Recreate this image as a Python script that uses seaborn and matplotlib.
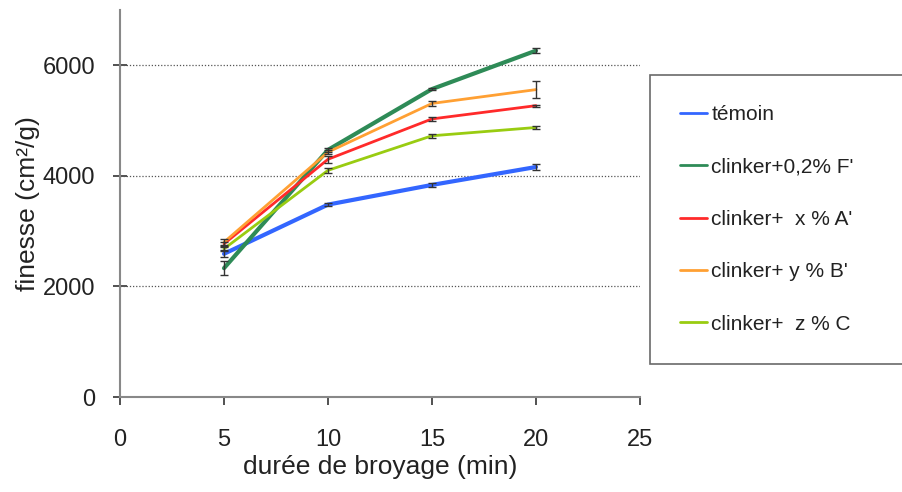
import matplotlib
matplotlib.use("Agg")
import matplotlib.pyplot as plt
import seaborn as sns
import pandas as pd

durees = [5, 10, 15, 20]
series = ["témoin", "clinker+0,2% F'", "clinker+  x % A'", "clinker+ y % B'", "clinker+  z % C"]
temoin = [2590, 3480, 3836, 4160]
clinker_f = [2330, 4470, 5570, 6265]
clinker_a = [2770, 4300, 5030, 5270]
clinker_b = [2800, 4430, 5310, 5560]
clinker_c = [2680, 4100, 4725, 4875]
erreurs = {
    "témoin": [60, 30, 40, 50],
    "clinker+0,2% F'": [125, 40, 25, 50],
    "clinker+  x % A'": [40, 60, 30, 20],
    "clinker+ y % B'": [50, 40, 40, 150],
    "clinker+  z % C": [40, 40, 40, 20],
}
valeurs = [temoin, clinker_f, clinker_a, clinker_b, clinker_c]
couleurs = ["#3366ff", "#2e8b57", "#ff2a2a", "#ffa033", "#99cc11"]
epaisseurs = [3, 3, 2, 2, 2]

rows = []
for nom, vals in zip(series, valeurs):
    for d, v, e in zip(durees, vals, erreurs[nom]):
        rows.append({"serie": nom, "duree": d, "finesse": v, "err": e})
df = pd.DataFrame(rows)

sns.set_style("white")
plt.rcParams["font.family"] = ["Liberation Sans", "DejaVu Sans"]

fig = plt.figure(figsize=(9.02, 4.92), dpi=100)
ax = fig.add_axes([120 / 902, 1 - 397 / 492, 520 / 902, 387 / 492])

for nom, c, lw in zip(series, couleurs, epaisseurs):
    sub = df[df["serie"] == nom]
    ax.errorbar(sub["duree"], sub["finesse"], yerr=sub["err"], fmt="none",
                ecolor="#333333", elinewidth=1, capsize=3, capthick=1, zorder=3)

sns.lineplot(data=df, x="duree", y="finesse", hue="serie", hue_order=series,
             palette=couleurs, size="serie", sizes=dict(zip(series, epaisseurs)),
             ax=ax, zorder=2, legend=False)

ax.set_xlim(0, 25)
ax.set_ylim(0, 7000)
ax.set_xticks([0, 5, 10, 15, 20, 25])
ax.set_yticks([0, 2000, 4000, 6000])
for y in [2000, 4000, 6000]:
    ax.axhline(y, color="#555555", linestyle=(0, (1, 1.5)), linewidth=0.9, zorder=1)

for s in ["top", "right"]:
    ax.spines[s].set_visible(False)
for s in ["left", "bottom"]:
    ax.spines[s].set_color("#888888")
    ax.spines[s].set_linewidth(1.5)
ax.tick_params(axis="x", labelsize=17, colors="#333333", length=6, width=1.2,
               direction="out", bottom=True, pad=17)
ax.tick_params(axis="y", labelsize=17, colors="#333333", length=10, width=1.2,
               direction="inout", left=True, pad=13)
for t in ax.get_xticklabels() + ax.get_yticklabels():
    t.set_color("#222222")

ax.set_xlabel("durée de broyage (min)", fontsize=19, color="#222222", labelpad=3)
ax.set_ylabel("finesse (cm²/g)", fontsize=19, color="#222222", labelpad=2)

handles = [plt.Line2D([], [], color=c, lw=2) for c in couleurs]
leg = fig.legend(handles, series, loc="upper left",
                 bbox_to_anchor=(650 / 902, 1 - 367 / 492, 0.32, 292 / 492), mode="expand",
                 fontsize=15, frameon=True, fancybox=False, edgecolor="#444444",
                 handlelength=1.3, handletextpad=0.2, labelspacing=1.6,
                 borderpad=1.45, borderaxespad=0)
leg._legend_box.align = "left"
leg.get_frame().set_linewidth(1.2)
for t in leg.get_texts():
    t.set_color("#222222")

fig.savefig("out.png", dpi=100)
